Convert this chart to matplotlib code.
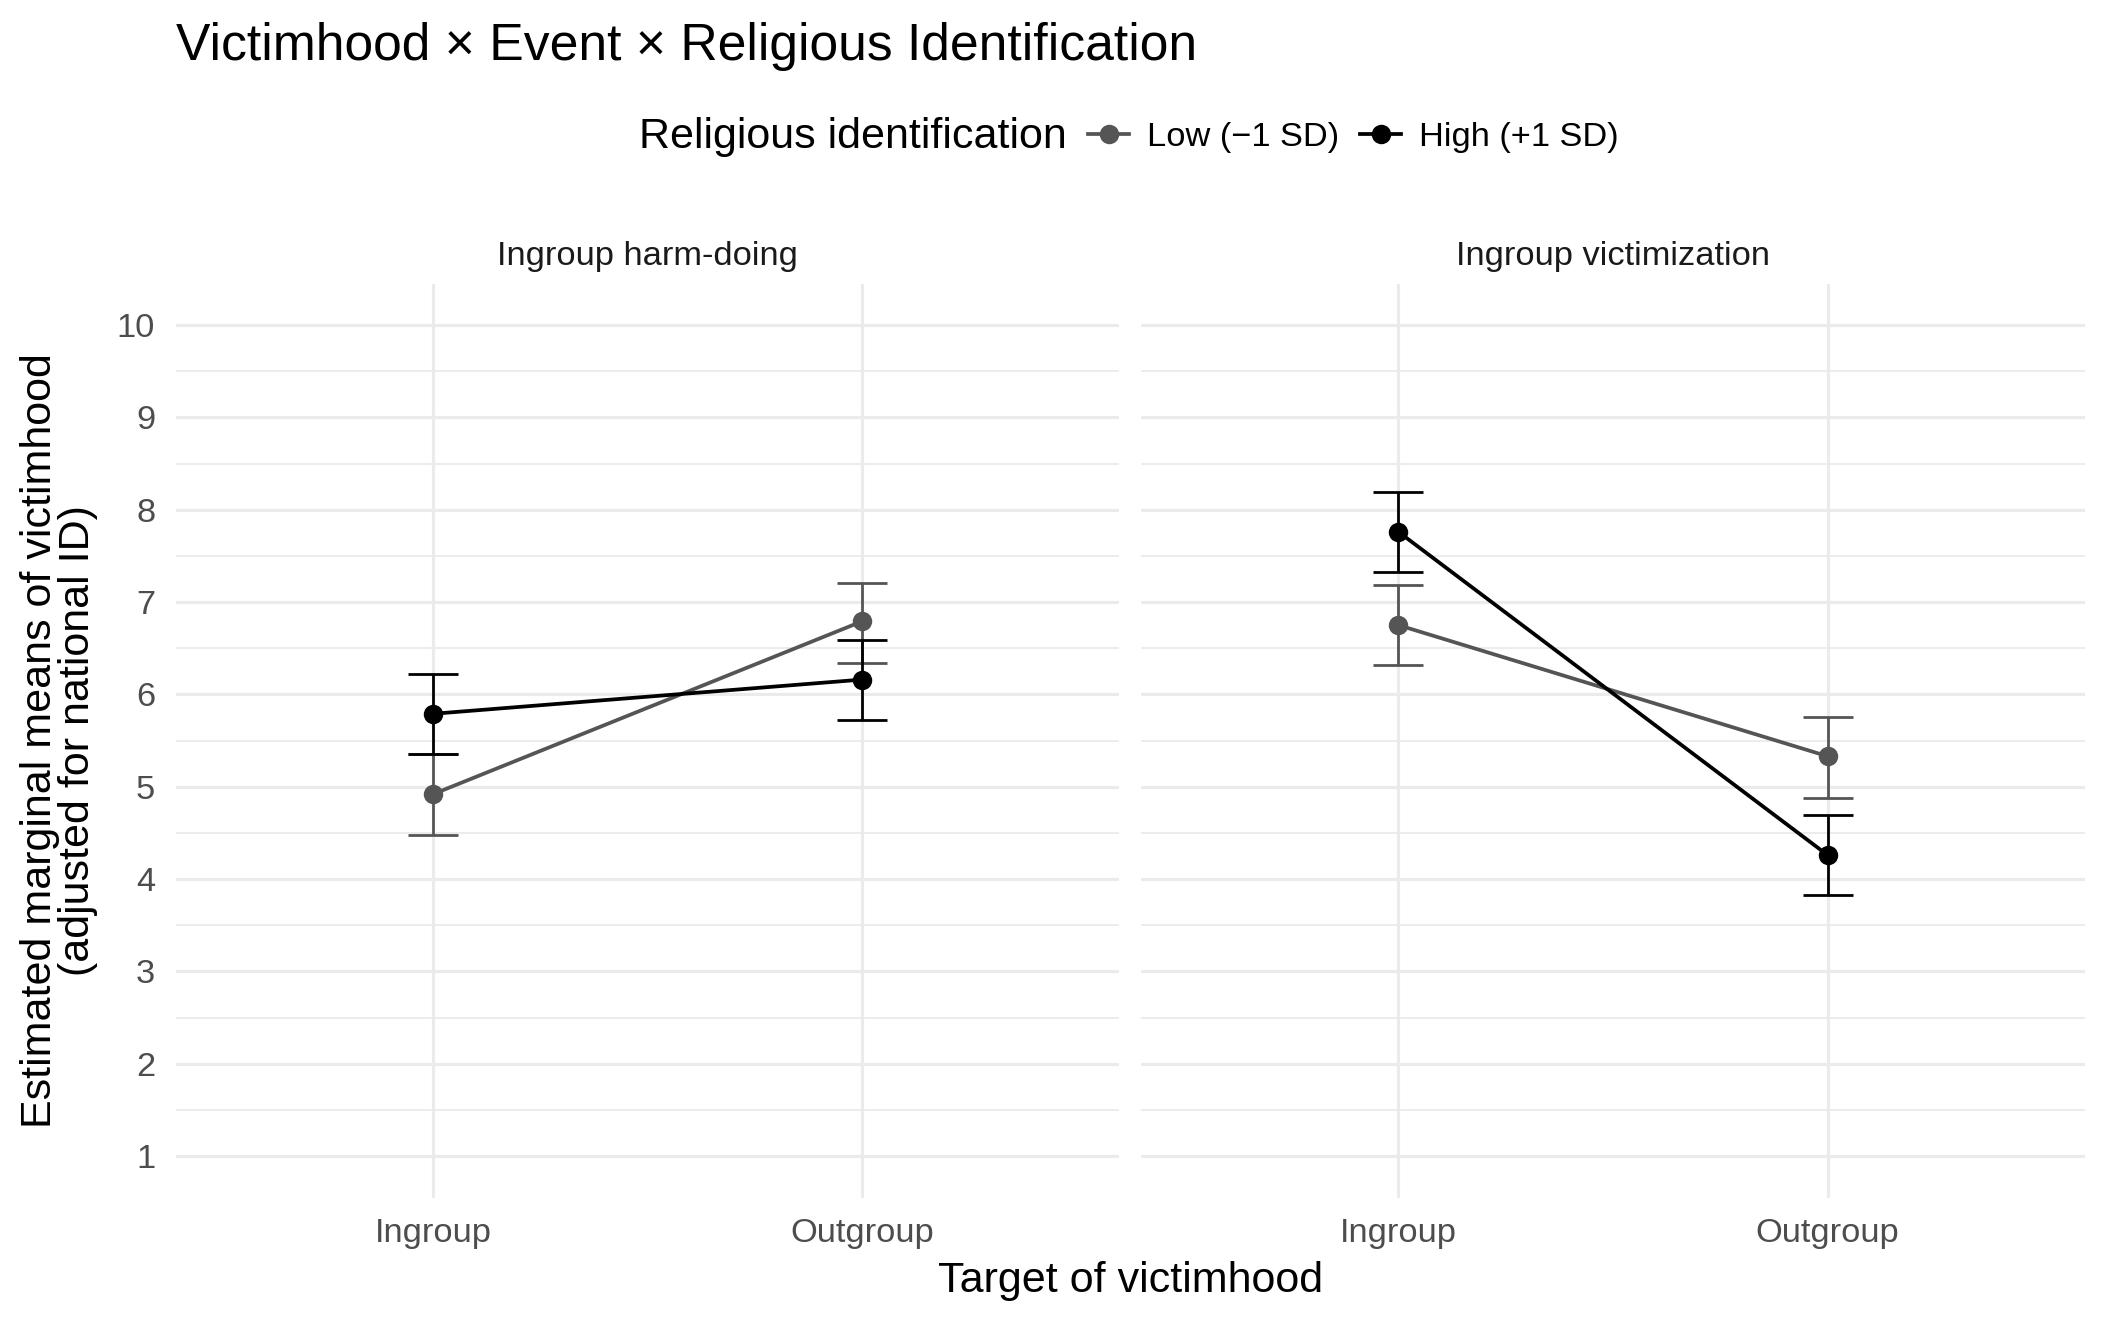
import matplotlib
matplotlib.use("Agg")
import matplotlib.pyplot as plt
from matplotlib.lines import Line2D
import numpy as np

plt.rcParams['font.family'] = ['Liberation Sans', 'DejaVu Sans']

# data
targets = ["Ingroup", "Outgroup"]
events = ["Ingroup harm-doing", "Ingroup victimization"]
low_mean = [[4.92, 6.79], [6.75, 5.33]]
low_lo = [[4.48, 6.34], [6.32, 4.88]]
low_hi = [[5.35, 7.21], [7.18, 5.76]]
high_mean = [[5.79, 6.16], [7.76, 4.26]]
high_lo = [[5.35, 5.72], [7.33, 3.83]]
high_hi = [[6.22, 6.59], [8.19, 4.69]]
yticks = [1, 2, 3, 4, 5, 6, 7, 8, 9, 10]

low_col = "#555555"
high_col = "#000000"
grid_col = "#EBEBEB"
tick_col = "#4D4D4D"

base = 15.5
small = base * 0.8

W, H = 2107, 1321
fig = plt.figure(figsize=(W / 200, H / 200), dpi=200)

top, bottom = 283.5, 1197.6
ax_l = fig.add_axes([176 / W, 1 - bottom / H, (1119 - 176) / W, (bottom - top) / H])
ax_r = fig.add_axes([1141 / W, 1 - bottom / H, (2085 - 1141) / W, (bottom - top) / H], sharey=ax_l)
axes = [ax_l, ax_r]

x = np.arange(len(targets))
for i, ax in enumerate(axes):
    # grid
    for y in yticks:
        ax.axhline(y, color=grid_col, lw=1.15, zorder=0)
    for y in np.arange(1.5, 10.5, 1.0):
        ax.axhline(y, color=grid_col, lw=0.65, zorder=0)
    for xx in x:
        ax.axvline(xx, color=grid_col, lw=1.15, zorder=0)

    series = [
        (low_mean[i], low_lo[i], low_hi[i], low_col),
        (high_mean[i], high_lo[i], high_hi[i], high_col),
    ]
    for m, lo, hi, col in series:
        m = np.array(m)
        yerr = [m - np.array(lo), np.array(hi) - m]
        ax.plot(x, m, color=col, lw=1.35, zorder=3)
        ax.errorbar(x, m, yerr=yerr, fmt="none", ecolor=col, elinewidth=1.0,
                    capsize=9, capthick=1.0, zorder=4)
        ax.plot(x, m, "o", color=col, ms=6, zorder=5)

    ax.set_xlim(-0.6, 1.6)
    ax.set_ylim(0.55, 10.45)
    ax.set_xticks(x)
    ax.set_xticklabels(targets, fontsize=small, color=tick_col)
    ax.set_yticks(yticks)
    ax.tick_params(axis="x", length=0, pad=7.3)
    ax.tick_params(axis="y", length=0, pad=7.5, labelsize=small, labelcolor=tick_col)
    for s in ax.spines.values():
        s.set_visible(False)
    ax.set_title(events[i], fontsize=small, color="#1A1A1A", pad=6.7)

plt.setp(ax_r.get_yticklabels(), visible=False)

fig.text(20 / W, 1 - (top + bottom) / 2 / H,
         "Estimated marginal means of victimhood\n(adjusted for national ID)",
         rotation=90, ha="left", va="center", multialignment="center",
         fontsize=base, linespacing=0.95)

fig.text((176 + 2085) / 2 / W, 1 - 1292 / H, "Target of victimhood",
         ha="center", va="baseline", fontsize=base)
fig.text(176 / W, 1 - 60 / H, "Victimhood \u00d7 Event \u00d7 Religious Identification",
         ha="left", va="baseline", fontsize=base * 1.2)

# legend
fig.text(639 / W, 1 - 148 / H, "Religious identification", ha="left", va="baseline",
         fontsize=base)
handles = [
    Line2D([0], [0], color=low_col, lw=1.35, marker="o", ms=6),
    Line2D([0], [0], color=high_col, lw=1.35, marker="o", ms=6),
]
fig.legend(handles, ["Low (\u22121 SD)", "High (+1 SD)"], loc="center left",
           bbox_to_anchor=(1088 / W, 1 - 137 / H), ncol=2, frameon=False,
           fontsize=small, handlelength=1.2, handletextpad=0.5, columnspacing=0.62,
           borderaxespad=0, borderpad=0)

fig.savefig("out.png", dpi=200, facecolor="white")
